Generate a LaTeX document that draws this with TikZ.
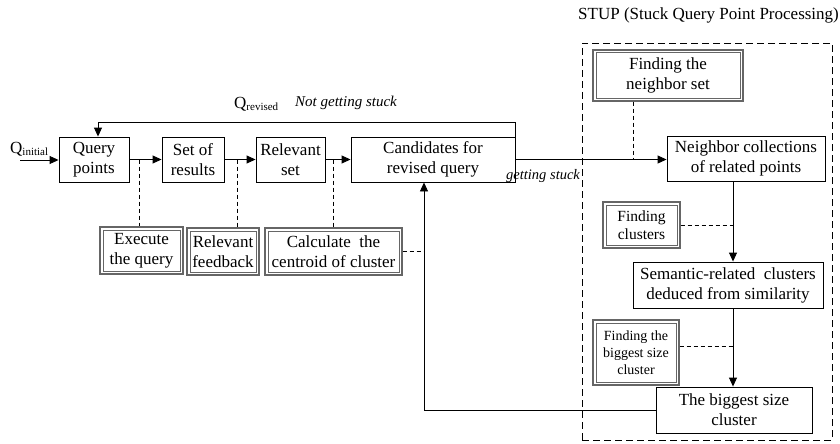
\documentclass[tikz,border=0pt]{standalone}
\usepackage{fontspec}
\setmainfont{Liberation Serif}
\usetikzlibrary{arrows.meta}
\begin{document}
\begin{tikzpicture}[x=1pt,y=-1pt,
  box/.style={draw, line width=0.9pt, align=center, inner sep=0pt, font=\fontsize{17}{20}\selectfont},
  dbox/.style={draw=black!60, line width=1.3pt, align=center, inner sep=0pt, font=\fontsize{17}{20}\selectfont},
  inr/.style={draw=black!60, line width=0.9pt},
  arr/.style={line width=0.9pt, -{Triangle[length=9pt,width=8pt]}},
  dsh/.style={line width=0.9pt, dash pattern=on 4pt off 3pt},
  lbl/.style={font=\fontsize{15}{17}\selectfont\itshape, inner sep=0pt}]
\useasboundingbox (0,0) rectangle (840,444);
% STUP frame
\node[draw, line width=0.9pt, dash pattern=on 7pt off 4pt, minimum width=250pt, minimum height=397pt, inner sep=0pt] (stup) at (707,241.5) {};
\node[inner sep=0pt, font=\fontsize{17}{20}\selectfont, anchor=west] (stuptitle) at (578,15) {STUP (Stuck Query Point Processing)};
% main row
\node[box, minimum width=70pt, minimum height=45pt] (qp) at (94,159.5) {Query\\points};
\node[box, minimum width=62pt, minimum height=45pt] (sr) at (193,159.5) {Set of\\results};
\node[box, minimum width=69pt, minimum height=45pt] (rs) at (290.5,159.5) {Relevant\\set};
\node[box, minimum width=164pt, minimum height=45pt] (cd) at (433,159.5) {Candidates for\\revised query};
% bottom helper boxes
\node[dbox, minimum width=83pt, minimum height=47pt] (ex) at (141.5,250.5) {Execute\\the query};
\node[dbox, minimum width=72pt, minimum height=47pt] (rf) at (223,251.5) {Relevant\\feedback};
\node[dbox, minimum width=137pt, minimum height=47pt] (cc) at (333.5,251.5) {Calculate\ \ the\\centroid of cluster};
% STUP boxes
\node[dbox, minimum width=150pt, minimum height=51pt] (fn) at (668,75.5) {Finding the\\neighbor set};
\node[box, minimum width=158pt, minimum height=45pt] (nc) at (746,158.5) {Neighbor collections\\of related points};
\node[dbox, minimum width=77pt, minimum height=46pt, font=\fontsize{15.5}{18}\selectfont] (fc) at (641.5,225) {Finding\\clusters};
\node[box, minimum width=190pt, minimum height=46pt] (sc) at (728,285) {Semantic-related\ \ clusters\\deduced from similarity};
\node[dbox, minimum width=86pt, minimum height=65pt, font=\fontsize{14}{17}\selectfont] (fb) at (636,352.5) {Finding the\\biggest size\\cluster};
\node[box, minimum width=156pt, minimum height=46pt] (bc) at (734,410) {The biggest size\\cluster};
\foreach \n in {ex,rf,cc,fn,fc,fb}
  \draw[inr] ([xshift=3.6pt,yshift=-3.6pt]\n.north west) rectangle ([xshift=-3.6pt,yshift=3.6pt]\n.south east);
% labels
\node[inner sep=0pt, anchor=west, font=\fontsize{17}{20}\selectfont] (qi) at (10,149) {Q\textsubscript{\fontsize{11}{12}\selectfont initial}};
\node[inner sep=0pt, anchor=west, font=\fontsize{17}{20}\selectfont] (qr) at (234,104) {Q\textsubscript{\fontsize{11}{12}\selectfont revised}};
\node[lbl, anchor=west] (ngs) at (295,103) {Not getting stuck};
\node[lbl, anchor=west, font=\fontsize{14.5}{17}\selectfont\itshape] (gs) at (506,176) {getting stuck};
% coordinates
\coordinate (qin) at (20,160);
\coordinate (vx) at (733,0);
\coordinate (ngx) at (515,0);
\coordinate (ngy) at (0,122);
\coordinate (fbx) at (98,0);
\coordinate (upx) at (424,0);
\coordinate (bottomy) at (0,410);
\coordinate (d1) at (139,0);
\coordinate (d2) at (237,0);
\coordinate (d3) at (333,0);
\coordinate (d4) at (633,0);
% main flow
\draw[arr] (qin) -- (qp.west |- qin);
\draw[arr] (qp.east) -- (sr.west);
\draw[arr] (sr.east) -- (rs.west);
\draw[arr] (rs.east) -- (cd.west);
\draw[arr] (cd.east) -- (nc.west |- cd.east);
% not getting stuck loop
\draw[arr] (cd.north -| ngx) -- (ngx |- ngy) -- (fbx |- ngy) -- (qp.north -| fbx);
% dashed links
\draw[dsh] (qp.east -| d1) -- (ex.north -| d1);
\draw[dsh] (sr.east -| d2) -- (rf.north -| d2);
\draw[dsh] (rs.east -| d3) -- (cc.north -| d3);
\draw[dsh] (cc.east) -- (cc.east -| upx);
\draw[dsh] (fn.south -| d4) -- (cd.east -| d4);
\draw[dsh] (fc.east) -- (fc.east -| vx);
\draw[dsh] (fb.east |- 0,346) -- (vx |- 0,346);
% STUP flow
\draw[arr] (nc.south -| vx) -- (sc.north -| vx);
\draw[arr] (sc.south -| vx) -- (bc.north -| vx);
% return path
\draw[arr] (bc.west |- bottomy) -- (upx |- bottomy) -- (cd.south -| upx);
\end{tikzpicture}
\end{document}
